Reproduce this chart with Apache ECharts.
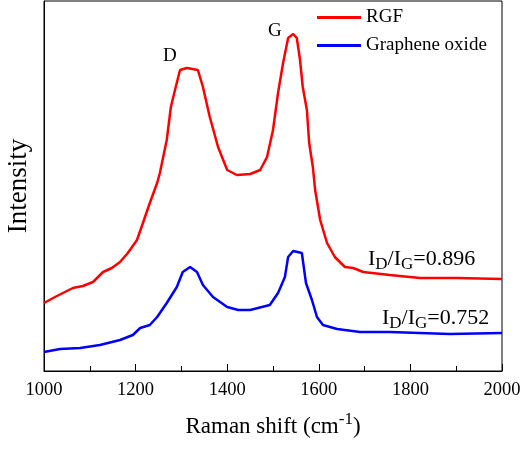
<!DOCTYPE html>
<html><head><meta charset="utf-8">
<script src="https://cdn.jsdelivr.net/npm/echarts@6/dist/echarts.min.js"></script>
<style>html,body{margin:0;padding:0;background:#fff}#c{width:523px;height:450px}</style>
</head><body><div id="c"></div>
<script>
const rgfX = [1000,1024,1063,1085,1107,1129,1148,1166,1183,1203,1216,1231,1247,1253,1268,1277,1286,1297,1312,1336,1347,1362,1380,1400,1421,1450,1472,1487,1500,1511,1522,1533,1544,1552,1559,1565,1574,1579,1587,1592,1603,1618,1635,1657,1675,1697,1755,1821,1902,2000];
const rgfY = [68,74,83,85,89,99,103,109,118,131,148,168,188,198,231,264,281,301,303,301,284,254,224,201,196,197,201,214,241,278,308,333,337,333,311,284,261,228,204,181,151,128,114,104,103,99,96,93,93,92];
const goX = [1000,1035,1079,1122,1166,1194,1210,1231,1247,1268,1290,1303,1319,1334,1347,1369,1400,1424,1450,1493,1511,1526,1533,1544,1563,1572,1585,1596,1609,1640,1690,1755,1886,2000];
const goY = [19,22,23,26,31,36,43,46,54,68,84,99,104,99,86,74,64,61,61,66,78,94,114,120,118,88,71,54,46,42,39,39,37,38];
const seriesNames = ['RGF','Graphene oxide'];
const xTicks = [1000,1200,1400,1600,1800,2000];

const F = 'Liberation Serif';
const subRich = {a:{fontFamily:F,fontSize:22,fill:'#000',verticalAlign:'top'},b:{fontFamily:F,fontSize:17,fill:'#000',verticalAlign:'top',padding:[8,0,0,0]}};
const chart = echarts.init(document.getElementById('c'));
chart.setOption({
  animation:false,
  textStyle:{fontFamily:F,color:'#000'},
  grid:{left:44,right:21,top:1,bottom:79,show:true,borderColor:'#000',borderWidth:1,containLabel:false,outerBoundsMode:'none'},
  legend:{left:312,top:3,orient:'vertical',itemWidth:44,itemHeight:3,itemGap:9,icon:'rect',
    textStyle:{fontFamily:F,fontSize:19,color:'#000'},data:seriesNames},
  xAxis:{type:'value',min:xTicks[0],max:xTicks[xTicks.length-1],interval:200,
    axisLine:{lineStyle:{color:'#000',width:1}},
    axisTick:{inside:true,length:7,lineStyle:{color:'#000'}},
    minorTick:{show:true,splitNumber:2,length:5,lineStyle:{color:'#000'}},
    splitLine:{show:false},
    axisLabel:{fontFamily:F,fontSize:18.5,color:'#000',margin:10,formatter:v=>String(v)},
    name:'{a|Raman shift (cm}{s|-1}{a|)}',nameLocation:'middle',nameGap:40,
    nameTextStyle:{rich:{a:{fontFamily:F,fontSize:23,color:'#000',verticalAlign:'bottom'},
      s:{fontFamily:F,fontSize:17,color:'#000',verticalAlign:'bottom',padding:[0,0,10,0]}}}},
  yAxis:{type:'value',min:0,max:370,
    axisLine:{show:true,lineStyle:{color:'#000',width:1}},
    axisTick:{show:false},axisLabel:{show:false},splitLine:{show:false},
    name:'Intensity',nameLocation:'middle',nameGap:12,
    nameTextStyle:{fontFamily:F,fontSize:27,color:'#000'}},
  series:[
    {name:seriesNames[0],type:'line',showSymbol:false,color:'#ff0000',lineStyle:{width:2.5,color:'#ff0000'},
     data:rgfX.map((x,i)=>[x,rgfY[i]])},
    {name:seriesNames[1],type:'line',showSymbol:false,color:'#0000ff',lineStyle:{width:2.5,color:'#0000ff'},
     data:goX.map((x,i)=>[x,goY[i]])}
  ],
  graphic:[
    {type:'text',left:163,top:47,style:{text:'D',fontFamily:F,fontSize:19,fill:'#000'}},
    {type:'text',left:268,top:22,style:{text:'G',fontFamily:F,fontSize:19,fill:'#000'}},
    {type:'text',left:368,top:248,style:{text:'{a|I}{b|D}{a|/I}{b|G}{a|=0.896}',rich:subRich}},
    {type:'text',left:382,top:307,style:{text:'{a|I}{b|D}{a|/I}{b|G}{a|=0.752}',rich:subRich}}
  ]
});
</script></body></html>
